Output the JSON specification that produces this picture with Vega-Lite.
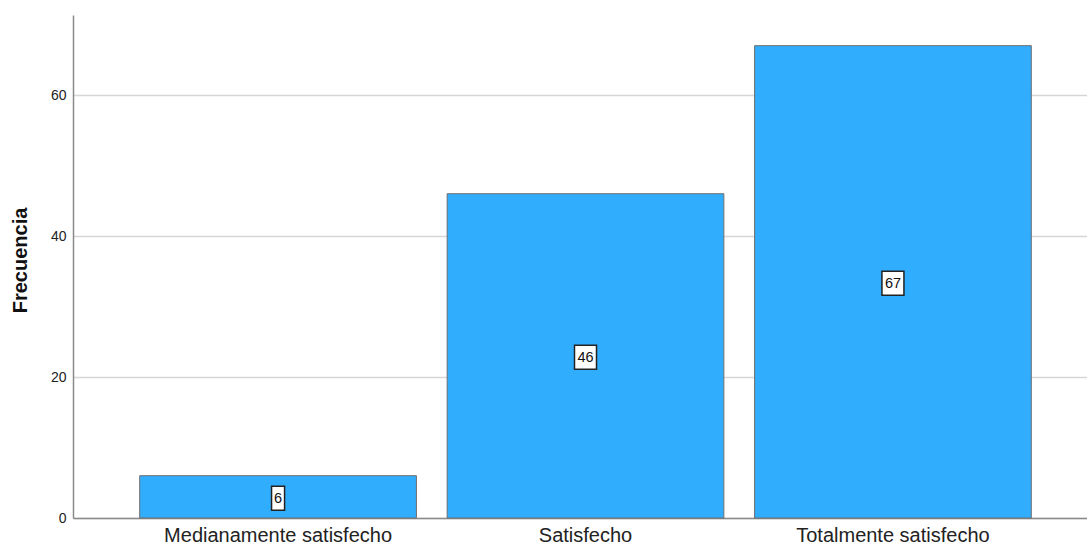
{
  "$schema": "https://vega.github.io/schema/vega-lite/v6.json",
  "autosize": {"type": "none"},
  "padding": {"left": 73, "top": 15, "right": 0, "bottom": 33},
  "width": 1025,
  "height": 503,
  "background": "white",
  "config": {
    "view": {"stroke": null},
    "font": "Liberation Sans"
  },
  "data": {
    "values": [
      {"Nivel": "Medianamente satisfecho", "Frecuencia": 6},
      {"Nivel": "Satisfecho", "Frecuencia": 46},
      {"Nivel": "Totalmente satisfecho", "Frecuencia": 67}
    ]
  },
  "transform": [{"calculate": "datum.Frecuencia / 2", "as": "Centro"}],
  "encoding": {
    "x": {
      "field": "Nivel",
      "type": "nominal",
      "sort": null,
      "scale": {"paddingInner": 0.1, "paddingOuter": 0.217},
      "axis": {
        "title": null,
        "labelAngle": 0,
        "labelFontSize": 20,
        "labelLimit": 0,
        "labelColor": "#222222",
        "labelPadding": 7,
        "ticks": false,
        "domainColor": "#8a8a8a",
        "domainWidth": 1.5,
        "grid": false
      }
    }
  },
  "layer": [
    {
      "mark": {"type": "bar", "color": "#31adfd", "stroke": "#6e6e6e", "strokeWidth": 1},
      "encoding": {
        "y": {
          "field": "Frecuencia",
          "type": "quantitative",
          "scale": {"domain": [0, 71.35], "nice": false},
          "axis": {
            "title": "Frecuencia",
            "titleFontSize": 20,
            "titleFontWeight": "bold",
            "titleColor": "#111111",
            "titlePadding": 20,
            "titleY": 245,
            "values": [0, 20, 40, 60],
            "labelFontSize": 14,
            "labelColor": "#222222",
            "labelPadding": 7,
            "ticks": false,
            "domainColor": "#8a8a8a",
            "domainWidth": 1.5,
            "grid": true,
            "gridColor": "#d6d6d6",
            "gridWidth": 1.5
          }
        }
      }
    },
    {
      "mark": {"type": "point", "filled": true, "fill": "white", "stroke": "#222222", "strokeWidth": 1.5, "opacity": 1, "size": 400, "yOffset": 1.5},
      "encoding": {
        "y": {"field": "Centro", "type": "quantitative"},
        "shape": {
          "condition": {"test": "datum.Frecuencia < 10", "value": "M-0.65,-1.2H0.65V1.2H-0.65Z"},
          "value": "M-1.1,-1.2H1.1V1.2H-1.1Z"
        }
      }
    },
    {
      "mark": {"type": "text", "fontSize": 14.5, "color": "#111111", "baseline": "middle", "align": "center", "dy": 2.5},
      "encoding": {
        "y": {"field": "Centro", "type": "quantitative"},
        "text": {"field": "Frecuencia", "type": "quantitative"}
      }
    }
  ]
}
